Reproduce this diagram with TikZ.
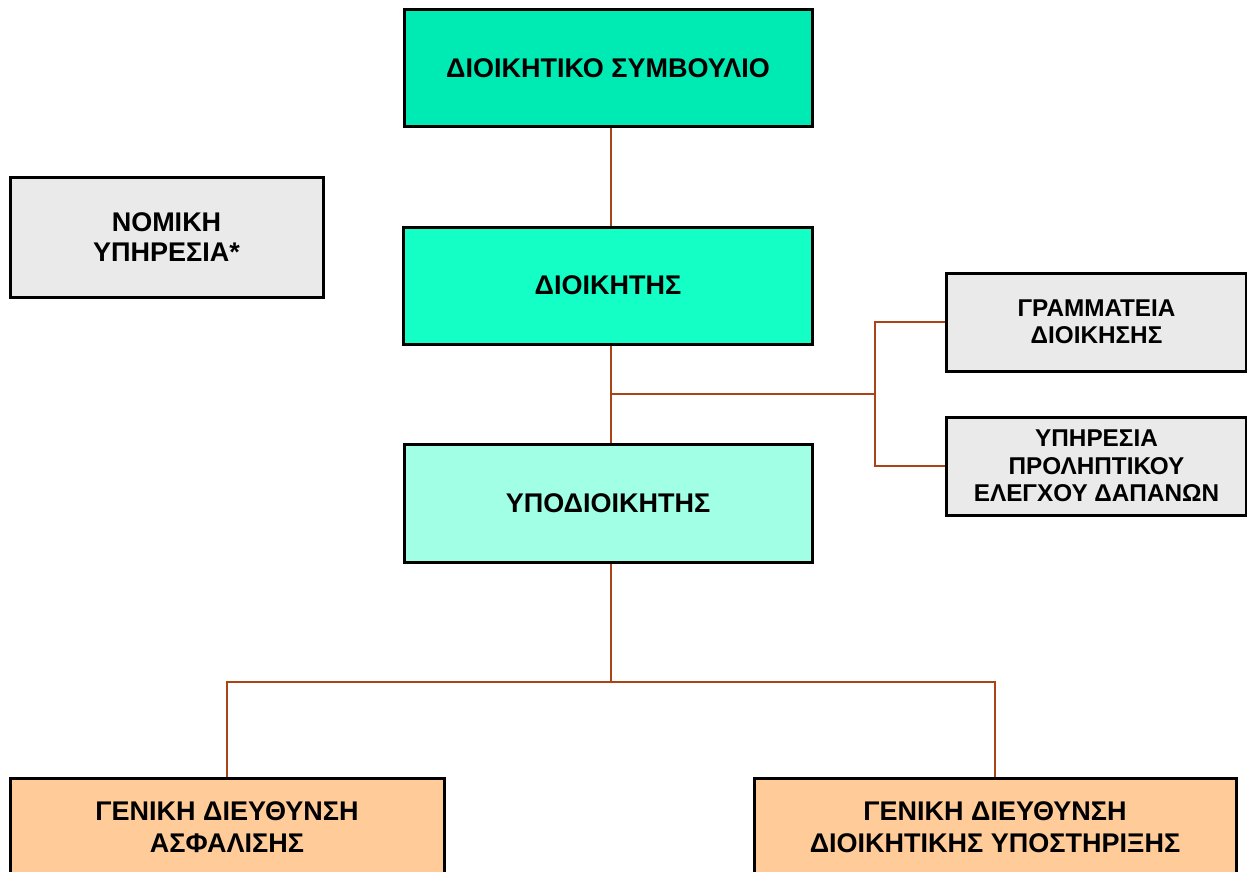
\documentclass[tikz,border=0pt]{standalone}
\usepackage{fontspec}
\setmainfont{Liberation Sans}
\definecolor{boardfill}{RGB}{0,234,180}
\definecolor{dirfill}{RGB}{20,255,198}
\definecolor{subfill}{RGB}{160,255,228}
\definecolor{grayfill}{RGB}{234,234,234}
\definecolor{orgfill}{RGB}{255,204,153}
\definecolor{linkcol}{RGB}{170,68,22}
\tikzset{
  unit/.style={draw=black, line width=3pt, align=center, inner sep=0pt,
    font=\fontsize{27}{30}\selectfont\bfseries},
  smallunit/.style={unit, font=\fontsize{24.3}{27.5}\selectfont\bfseries},
  wideunit/.style={unit, font=\fontsize{27}{32}\selectfont\bfseries},
  conn/.style={draw=linkcol, line width=2pt},
}
\begin{document}
\begin{tikzpicture}[x=1pt,y=-1pt]
\useasboundingbox (0,0) rectangle (1247,872);
\clip (0,0) rectangle (1247,872);
\fill[white] (0,0) rectangle (1247,872);
\node[unit, fill=boardfill, minimum width=408pt, minimum height=117pt] (board) at (608,68.5) {ΔΙΟΙΚΗΤΙΚΟ ΣΥΜΒΟΥΛΙΟ};
\node[unit, fill=dirfill, minimum width=409pt, minimum height=117pt] (dir) at (608,285.5) {ΔΙΟΙΚΗΤΗΣ};
\node[unit, fill=subfill, minimum width=408pt, minimum height=118pt] (sub) at (608,503.5) {ΥΠΟΔΙΟΙΚΗΤΗΣ};
\node[unit, fill=grayfill, minimum width=313pt, minimum height=120pt] (legal) at (166.5,237.5) {ΝΟΜΙΚΗ\\ΥΠΗΡΕΣΙΑ*};
\node[smallunit, fill=grayfill, minimum width=300pt, minimum height=98pt] (sec) at (1096.5,322) {ΓΡΑΜΜΑΤΕΙΑ\\ΔΙΟΙΚΗΣΗΣ};
\node[smallunit, fill=grayfill, minimum width=300pt, minimum height=98pt] (audit) at (1096.5,466) {ΥΠΗΡΕΣΙΑ\\ΠΡΟΛΗΠΤΙΚΟΥ\\ΕΛΕΓΧΟΥ ΔΑΠΑΝΩΝ};
\node[wideunit, fill=orgfill, minimum width=434pt, minimum height=98pt] (ins) at (227,827) {ΓΕΝΙΚΗ ΔΙΕΥΘΥΝΣΗ\\ΑΣΦΑΛΙΣΗΣ};
\node[wideunit, fill=orgfill, minimum width=482pt, minimum height=98pt] (sup) at (995,827) {ΓΕΝΙΚΗ ΔΙΕΥΘΥΝΣΗ\\ΔΙΟΙΚΗΤΙΚΗΣ ΥΠΟΣΤΗΡΙΞΗΣ};
\coordinate (sp) at (611,0);
\coordinate (j1) at (611,394);
\coordinate (j2) at (875,394);
\coordinate (bus) at (611,682);
\draw[conn] (board.south -| sp) -- (dir.north -| sp);
\draw[conn] (dir.south -| sp) -- (sub.north -| sp);
\draw[conn] (j1) -- (j2);
\draw[conn] (sec.west) -| (j2) |- (audit.west);
\draw[conn] (sub.south -| sp) -- (bus);
\draw[conn] (ins.north) |- (bus) -| (sup.north);
\end{tikzpicture}
\end{document}
